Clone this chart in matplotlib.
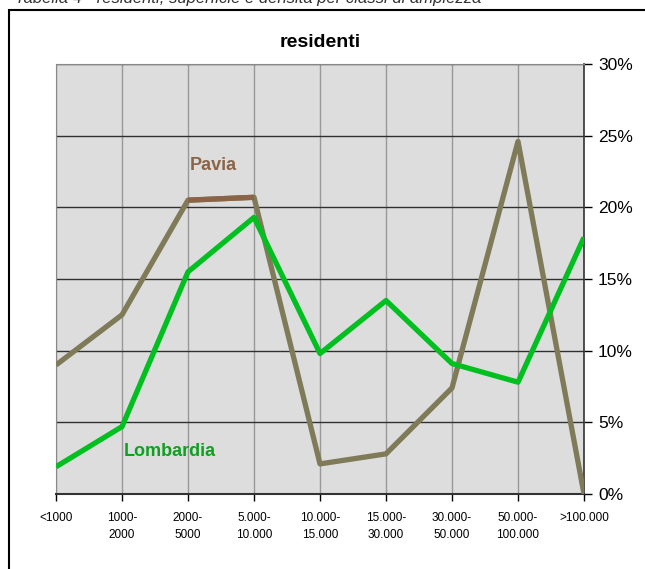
import numpy as np
import matplotlib.pyplot as plt
from matplotlib.patches import Rectangle

plt.rcParams['font.family'] = ['Liberation Sans', 'DejaVu Sans']

classi = ['<1000', '1000-\n2000', '2000-\n5000', '5.000-\n10.000', '10.000-\n15.000',
          '15.000-\n30.000', '30.000-\n50.000', '50.000-\n100.000', '>100.000']
pavia = [9.0, 12.5, 20.5, 20.7, 2.1, 2.8, 7.4, 24.6, 0.0]
lombardia = [1.9, 4.7, 15.5, 19.3, 9.8, 13.5, 9.1, 7.8, 17.9]

fig = plt.figure(figsize=(6.45, 5.69), dpi=100)
ax = fig.add_axes([56/645, 1-494/569, 528/645, 430/569])
ax.set_facecolor('#dddddd')

x = np.arange(len(classi))
ax.plot(x, pavia, color='#7f7a58', lw=3.8, solid_capstyle='butt', zorder=3)
# segmento evidenziato
ax.plot(x[2:4], pavia[2:4], color='#8b6447', lw=3.8, solid_capstyle='butt', zorder=4)
ax.plot(x, lombardia, color='#00c020', lw=3.8, solid_capstyle='butt', zorder=5)

ax.set_xlim(0, len(classi)-1)
ax.set_ylim(0, 30)
ax.set_xticks(x)
ax.set_xticklabels(classi, fontsize=8.5, linespacing=1.5)
ax.set_yticks(np.arange(0, 31, 5))
ax.set_yticklabels([f'{v}%' for v in range(0, 31, 5)], fontsize=12.5)
ax.yaxis.tick_right()
ax.tick_params(axis='y', direction='out', length=6, width=1, pad=4)
ax.tick_params(axis='x', direction='out', length=5, width=1, pad=8)

ax.yaxis.grid(True, color='#303030', lw=1)
ax.xaxis.grid(True, color='#999999', lw=1)
ax.set_axisbelow(True)
for s in ['left', 'top']:
    ax.spines[s].set_color('#888888')
ax.spines['right'].set_color('#333333')
ax.spines['bottom'].set_color('#333333')
ax.spines['right'].set_linewidth(1.2)
ax.spines['bottom'].set_linewidth(1.5)

ax.set_title('residenti', fontsize=14, fontweight='bold', pad=12)
ax.text(2.38, 22.9, 'Pavia', color='#8b6447', fontsize=13, fontweight='bold', ha='center', va='center')
ax.text(1.03, 3.0, 'Lombardia', color='#10a020', fontsize=13, fontweight='bold', ha='left', va='center')

fig.patches.append(Rectangle((9/645, -0.1), 1.1, 1.1 - 10/569, transform=fig.transFigure,
                             fill=False, ec='black', lw=1.5))
fig.text(15/645, 1 - 3/569, 'Tabella 4 - residenti, superficie e densità per classi di ampiezza',
         fontsize=12, style='italic', va='baseline', ha='left', color='#333333')

fig.savefig('out.png', dpi=100)
